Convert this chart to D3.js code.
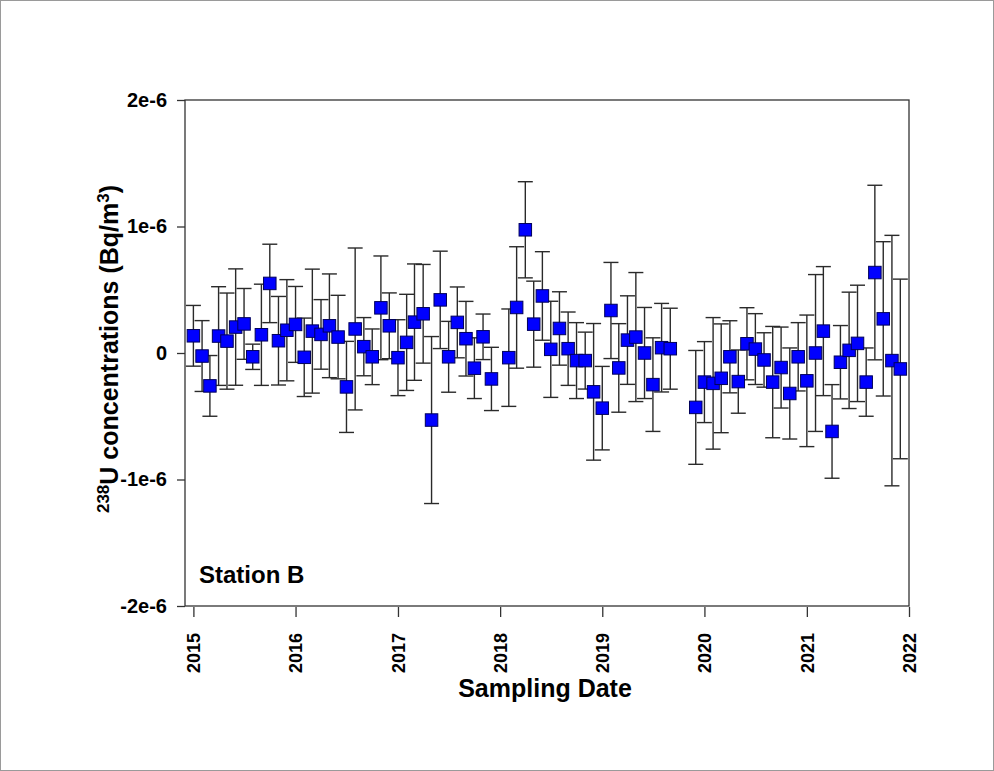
<!DOCTYPE html>
<html>
<head>
<meta charset="utf-8">
<script src="https://cdn.jsdelivr.net/npm/d3@7"></script>
<style>
  body { margin: 0; background: #fff; }
  text { font-family: Arial, "Liberation Sans", sans-serif; font-weight: bold; fill: #000; }
</style>
</head>
<body>
<svg class="chart"></svg>
<script>
// sampling months (2018-01 and 2019-10/11 missing)
var sampleDates = [
  "2015-01","2015-02","2015-03","2015-04","2015-05","2015-06","2015-07","2015-08","2015-09","2015-10","2015-11","2015-12",
  "2016-01","2016-02","2016-03","2016-04","2016-05","2016-06","2016-07","2016-08","2016-09","2016-10","2016-11","2016-12",
  "2017-01","2017-02","2017-03","2017-04","2017-05","2017-06","2017-07","2017-08","2017-09","2017-10","2017-11","2017-12",
  "2018-02","2018-03","2018-04","2018-05","2018-06","2018-07","2018-08","2018-09","2018-10","2018-11","2018-12",
  "2019-01","2019-02","2019-03","2019-04","2019-05","2019-06","2019-07","2019-08","2019-09","2019-12",
  "2020-01","2020-02","2020-03","2020-04","2020-05","2020-06","2020-07","2020-08","2020-09","2020-10","2020-11","2020-12",
  "2021-01","2021-02","2021-03","2021-04","2021-05","2021-06","2021-07","2021-08","2021-09","2021-10","2021-11","2021-12"
];

// 238U concentration, in units of 1e-6 Bq/m3
var concValues = [
  0.136, -0.024, -0.26, 0.134, 0.094, 0.205, 0.23, -0.03, 0.144, 0.55, 0.097, 0.18,
  0.226, -0.034, 0.173, 0.147, 0.215, 0.126, -0.268, 0.19, 0.05, -0.03, 0.357, 0.215,
  -0.037, 0.084, 0.244, 0.31, -0.53, 0.42, -0.03, 0.242, 0.113, -0.12, 0.128, -0.205,
  -0.037, 0.36, 0.974, 0.228, 0.451, 0.029, 0.194, 0.034, -0.06, -0.06, -0.307,
  -0.436, 0.336, -0.118, 0.102, 0.126, 0.0, -0.25, 0.042, 0.034, -0.43,
  -0.23, -0.24, -0.20, -0.03, -0.226, 0.073, 0.031, -0.055, -0.23, -0.115, -0.32, -0.03,
  -0.22, 0.0, 0.173, -0.62, -0.073, 0.021, 0.076, -0.23, 0.636, 0.27, -0.06, -0.126
];

// uncertainty (+/-), same units
var concErrors = [
  0.24, 0.28, 0.24, 0.39, 0.38, 0.46, 0.28, 0.10, 0.40, 0.31, 0.35, 0.40,
  0.30, 0.31, 0.49, 0.275, 0.41, 0.33, 0.36, 0.64, 0.23, 0.22, 0.41, 0.26,
  0.30, 0.38, 0.46, 0.39, 0.66, 0.385, 0.28, 0.28, 0.295, 0.24, 0.18, 0.25,
  0.385, 0.48, 0.38, 0.34, 0.35, 0.38, 0.29, 0.29, 0.30, 0.225, 0.54,
  0.33, 0.38, 0.35, 0.35, 0.51, 0.36, 0.37, 0.35, 0.32, 0.45,
  0.32, 0.52, 0.43, 0.285, 0.25, 0.285, 0.28, 0.215, 0.44, 0.32, 0.36, 0.27,
  0.52, 0.62, 0.51, 0.37, 0.29, 0.46, 0.46, 0.27, 0.69, 0.61, 0.99, 0.71
];

var yTickValues = [-2e-6, -1e-6, 0, 1e-6, 2e-6];
var yTickLabels = ["-2e-6", "-1e-6", "0", "1e-6", "2e-6"];
var xTickYears = [2015, 2016, 2017, 2018, 2019, 2020, 2021, 2022];

var parseMonth = d3.timeParse("%Y-%m");
var data = sampleDates.map((d, i) => ({
  date: parseMonth(d),
  value: concValues[i] * 1e-6,
  err: concErrors[i] * 1e-6
}));

/******** Make Chart ********/
const width = 994;
const height = 771;
const plotLeft = 185;
const plotRight = 909;
const plotTop = 100;
const plotBottom = 606;

var svg = d3.select(".chart")
  .attr("width", width)
  .attr("height", height);

// outer frame of the picture
svg.append("rect")
  .attr("x", 0.5).attr("y", 0.5)
  .attr("width", width - 1).attr("height", height - 1)
  .attr("fill", "none")
  .attr("stroke", "#9a9a9a");

var x = d3.scaleTime()
  .domain([new Date(2014, 11, 2), new Date(2022, 0, 1)])
  .range([plotLeft, plotRight]);

var y = d3.scaleLinear()
  .domain([-2e-6, 2e-6])
  .range([plotBottom, plotTop]);

// y axis
var yAxis = d3.axisLeft(y)
  .tickValues(yTickValues)
  .tickFormat((d, i) => yTickLabels[i])
  .tickSize(8)
  .tickPadding(10);

var yAxisGroup = svg.append("g")
  .attr("transform", `translate(${plotLeft},0)`)
  .call(yAxis);
yAxisGroup.select(".domain").remove();
yAxisGroup.selectAll("line").attr("stroke", "#333").attr("stroke-width", 1.3);
yAxisGroup.selectAll("text")
  .style("font-size", "20px")
  .style("font-family", "Arial, 'Liberation Sans', sans-serif")
  .attr("fill", "#000");

// x axis (ticks start just below the frame)
var xAxis = d3.axisBottom(x)
  .tickValues(xTickYears.map(yr => new Date(yr, 0, 1)))
  .tickFormat(d3.timeFormat("%Y"))
  .tickSize(10)
  .tickSizeOuter(0);

var xAxisGroup = svg.append("g")
  .attr("transform", `translate(0,${plotBottom + 1})`)
  .call(xAxis);
xAxisGroup.select(".domain").remove();
xAxisGroup.selectAll("line").attr("stroke", "#333").attr("stroke-width", 1.3);
xAxisGroup.selectAll("text")
  .attr("x", 0)
  .attr("y", 0)
  .attr("dy", "0.35em")
  .attr("transform", "translate(0,26) rotate(-90)")
  .style("text-anchor", "end")
  .style("font-size", "18px")
  .style("font-family", "Arial, 'Liberation Sans', sans-serif")
  .attr("fill", "#000");

// plot frame
svg.append("rect")
  .attr("x", plotLeft).attr("y", plotTop)
  .attr("width", plotRight - plotLeft).attr("height", plotBottom - plotTop)
  .attr("fill", "none")
  .attr("stroke", "#333")
  .attr("stroke-width", 1.3);

// error bars
var capHalf = 7.5;
var bars = svg.append("g").attr("stroke", "#2a2a2a").attr("stroke-width", 1.4);
data.forEach(d => {
  var cx = x(d.date);
  var yHi = y(d.value + d.err);
  var yLo = y(d.value - d.err);
  bars.append("line").attr("x1", cx).attr("x2", cx).attr("y1", yHi).attr("y2", yLo);
  bars.append("line").attr("x1", cx - capHalf).attr("x2", cx + capHalf).attr("y1", yHi).attr("y2", yHi);
  bars.append("line").attr("x1", cx - capHalf).attr("x2", cx + capHalf).attr("y1", yLo).attr("y2", yLo);
});

// markers
var markerSize = 12.5;
svg.append("g").selectAll("rect")
  .data(data)
  .enter()
  .append("rect")
  .attr("x", d => x(d.date) - markerSize / 2)
  .attr("y", d => y(d.value) - markerSize / 2)
  .attr("width", markerSize)
  .attr("height", markerSize)
  .attr("fill", "#0000ff")
  .attr("stroke", "#00005a")
  .attr("stroke-width", 1);

// station label
svg.append("text")
  .attr("x", 199)
  .attr("y", 583)
  .style("font-size", "24px")
  .text("Station B");

// x title
svg.append("text")
  .attr("x", 545)
  .attr("y", 697)
  .style("text-anchor", "middle")
  .style("font-size", "25px")
  .text("Sampling Date");

// y title with superscripts
var yTitle = svg.append("text")
  .attr("transform", `translate(118,${(plotTop + plotBottom) / 2 - 4}) rotate(-90)`)
  .style("text-anchor", "middle")
  .style("font-size", "25px");
yTitle.append("tspan").attr("dy", -9).style("font-size", "17px").text("238");
yTitle.append("tspan").attr("dy", 9).text("U concentrations (Bq/m");
yTitle.append("tspan").attr("dy", -9).style("font-size", "17px").text("3");
yTitle.append("tspan").attr("dy", 9).text(")");
</script>
</body>
</html>
